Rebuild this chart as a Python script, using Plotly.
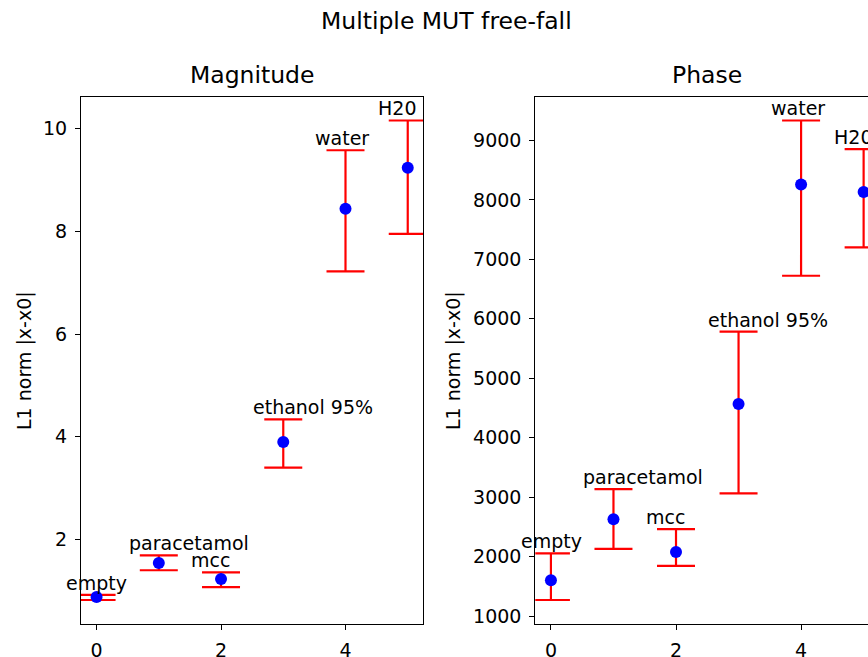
import plotly.graph_objects as go

# ---- data ----
categories = ["empty", "paracetamol", "mcc", "ethanol 95%", "water", "H20"]
x_pos = [0, 1, 2, 3, 4, 5]

mag_mean = [0.88, 1.54, 1.23, 3.90, 8.44, 9.24]
mag_err_up = [0.04, 0.15, 0.13, 0.44, 1.14, 0.92]
mag_err_down = [0.06, 0.14, 0.16, 0.50, 1.22, 1.29]

phase_mean = [1601, 2629, 2078, 4567, 8257, 8134]
phase_err_up = [455, 506, 383, 1218, 1078, 718]
phase_err_down = [331, 500, 235, 1505, 1533, 934]

W, H = 868, 657
FONT = "DejaVu Sans"
TXT = 19
TTL = 23.5

def px_x(p):
    return p / W

def px_y(p):
    return 1 - p / H

def yrange(mean, up, down):
    hi = max(m + u for m, u in zip(mean, up))
    lo = min(m - d for m, d in zip(mean, down))
    pad = 0.05 * (hi - lo)
    return [lo - pad, hi + pad]

L0, L1 = 81, 423.3
R0, R1 = 535.3, 868
T0, B0 = 96.5, 624
XR_L = [-0.25, 5.25]
XR_R = [-0.25, 5.07]
unit_px = (L1 - L0) / (XR_L[1] - XR_L[0])  # pixels per x unit

fig = go.Figure()

panels = [
    ("x", "y", mag_mean, mag_err_up, mag_err_down),
    ("x2", "y2", phase_mean, phase_err_up, phase_err_down),
]

for xa, ya, mean, up, down in panels:
    fig.add_trace(go.Scatter(
        x=x_pos, y=mean, mode="markers", xaxis=xa, yaxis=ya,
        marker=dict(color="#0000ff", size=12, line=dict(width=0)),
        error_y=dict(type="data", symmetric=False, array=up, arrayminus=down,
                     color="#ff0000", thickness=2.2, width=19),
        showlegend=False, cliponaxis=False,
    ))
    for xi, m, u, lab in zip(x_pos, mean, up, categories):
        # label starts half a unit left of the point
        fig.add_annotation(
            x=xi, y=m + u, xref=xa, yref=ya, text=lab,
            showarrow=False, xanchor="left", yanchor="bottom",
            xshift=-0.5 * unit_px,
            borderpad=0, font=dict(family=FONT, size=TXT, color="#000000"),
        )

axis_common = dict(
    showline=True, linecolor="#000000", linewidth=1.1,
    ticks="outside", ticklen=5, tickwidth=1.1, tickcolor="#000000",
    showgrid=False, zeroline=False, automargin=False,
    tickfont=dict(family=FONT, size=TXT, color="#000000"),
)

fig.update_layout(
    width=W, height=H,
    margin=dict(l=0, r=0, t=0, b=0),
    plot_bgcolor="white", paper_bgcolor="white",
    font=dict(family=FONT, size=TXT, color="#000000"),
    xaxis=dict(domain=[px_x(L0), px_x(L1)], range=XR_L, dtick=2, tick0=0,
               mirror=True, anchor="y", ticklabelstandoff=4, **axis_common),
    yaxis=dict(domain=[px_y(B0), px_y(T0)], range=yrange(mag_mean, mag_err_up, mag_err_down),
               dtick=2, tick0=0, mirror=True, anchor="x", ticklabelstandoff=4,
               **axis_common),
    xaxis2=dict(domain=[px_x(R0), px_x(R1)], range=XR_R, dtick=2, tick0=0,
                mirror=True, anchor="y2", ticklabelstandoff=4, **axis_common),
    yaxis2=dict(domain=[px_y(B0), px_y(T0)], range=yrange(phase_mean, phase_err_up, phase_err_down),
                dtick=1000, tick0=0, mirror=False, anchor="x2", ticklabelstandoff=4,
                **axis_common),
)

# titles and axis labels
fig.add_annotation(x=446 / W, y=px_y(37), xref="paper", yref="paper", text="Multiple MUT free-fall",
                   showarrow=False, xanchor="center", yanchor="bottom",
                   font=dict(family=FONT, size=TTL, color="#000000"))
fig.add_annotation(x=252 / W, y=px_y(91), xref="paper", yref="paper", text="Magnitude",
                   showarrow=False, xanchor="center", yanchor="bottom",
                   font=dict(family=FONT, size=TTL, color="#000000"))
fig.add_annotation(x=707 / W, y=px_y(91), xref="paper", yref="paper", text="Phase",
                   showarrow=False, xanchor="center", yanchor="bottom",
                   font=dict(family=FONT, size=TTL, color="#000000"))
for cx in (24, 453):
    fig.add_annotation(x=cx / W, y=px_y(361), xref="paper", yref="paper", text="L1 norm |x-x0|",
                       showarrow=False, xanchor="center", yanchor="middle", textangle=-90,
                       font=dict(family=FONT, size=TXT, color="#000000"))

fig.write_html("out.html")
